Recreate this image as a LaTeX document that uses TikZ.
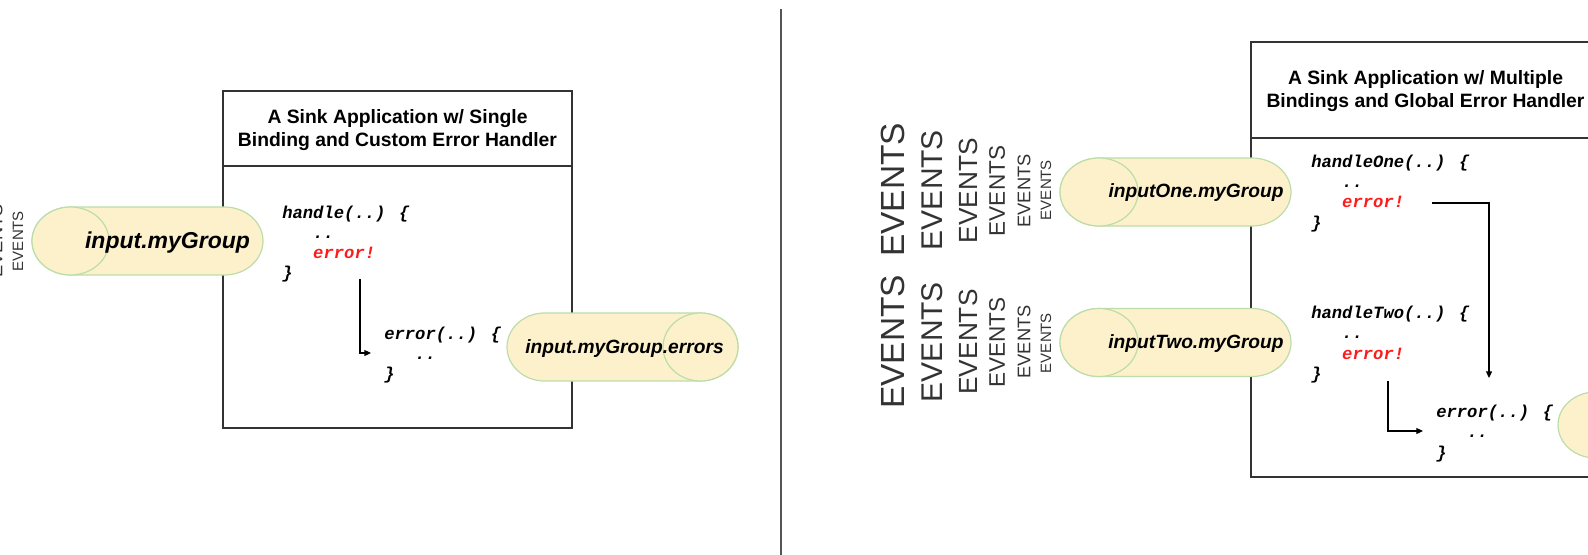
\documentclass[tikz,border=0pt]{standalone}
\usepackage{fontspec}
\setmainfont{Liberation Sans}
\newfontfamily\codefont{Liberation Mono}
\usetikzlibrary{arrows.meta}
\definecolor{boxgray}{HTML}{333333}
\definecolor{divgray}{HTML}{555555}
\definecolor{cylfill}{HTML}{FDF1CC}
\definecolor{cylline}{HTML}{BCDDA8}
\definecolor{errred}{HTML}{FF1A1A}
\newcommand{\mycylbody}[5]{%
  \path[cyl] ({#1+#4},{#3-#5}) -- ({#2-#4},{#3-#5})
    arc[start angle=-90,end angle=90,x radius=#4,y radius=#5]
    -- ({#1+#4},{#3+#5})
    arc[start angle=90,end angle=270,x radius=#4,y radius=#5] -- cycle;}
\tikzset{
  boxline/.style={draw=boxgray, line width=1.1pt},
  divider/.style={draw=divgray, line width=0.9pt},
  cyl/.style={fill=cylfill, draw=cylline, line width=0.9pt},
  code/.style={anchor=base west, inner sep=0pt, text=black,
    font=\fontsize{12.9pt}{15pt}\selectfont\codefont\bfseries\itshape},
  redcode/.style={code, text=errred},
  titletext/.style={align=center, inner sep=0pt, text=black,
    font=\fontsize{14.5pt}{17.6pt}\selectfont\bfseries},
  evt/.style={rotate=90, inner sep=0pt, text=boxgray},
  lbl/.style={inner sep=0pt, text=black, font=\fontsize{14.4pt}{16pt}\selectfont\bfseries\itshape},
  biglbl/.style={lbl, font=\fontsize{17.25pt}{19pt}\selectfont\bfseries\itshape},
  flow/.style={draw=black, line width=0.8pt, -{Triangle[length=5pt,width=4.5pt]}},
}
\begin{document}
\begin{tikzpicture}[x=0.75pt,y=-0.75pt]
\useasboundingbox (0,0) rectangle (1588,554);
\clip (0,0) rectangle (1588,554);

% divider
\coordinate (dtop) at (781,9);
\coordinate (dbot) at (781,560);
\draw[divider] (dtop) -- (dbot);

% ---------- left panel ----------
\draw[boxline] (223,91) rectangle (572,428);
\draw[boxline] (223,166) -- (572,166);
\node[titletext] (ltitle) at (397.5,130) {A Sink Application w/ Single\\Binding and Custom Error Handler};

\node[evt, font=\fontsize{13.7pt}{14pt}\selectfont] (lev5) at (-4,241) {EVENTS};
\node[evt, font=\fontsize{11.25pt}{12pt}\selectfont] (lev6) at (18,241) {EVENTS};

\mycylbody{32}{263}{241}{38.5}{34}
\draw[cyl] (70.5,241) ellipse [x radius=38.5, y radius=34];
\node[biglbl] (lin) at (167.5,243) {input.myGroup};

\mycylbody{507}{738}{347}{37.5}{34}
\draw[cyl] (700.5,347) ellipse [x radius=37.5, y radius=34];
\node[lbl] (lerr) at (624.5,349) {input.myGroup.errors};

\node[code] (lh1) at (282,218) {handle(..) \{};
\node[code] (lh2) at (282,238) {\phantom{xxx}..};
\node[redcode] (lh3) at (282,258) {\phantom{xxx}error!};
\node[code] (lh4) at (282,278) {\}};

\node[code] (le1) at (384,339) {error(..) \{};
\node[code] (le2) at (384,359) {\phantom{xxx}..};
\node[code] (le3) at (384,379) {\}};

\coordinate (la1) at (360,279);
\coordinate (la2) at (371,353);
\draw[flow] (la1) |- (la2);

% ---------- right panel ----------
\draw[boxline] (1251,42) rectangle (1599,477);
\draw[boxline] (1251,138) -- (1599,138);
\node[titletext] (rtitle) at (1425.5,91) {A Sink Application w/ Multiple\\Bindings and Global Error Handler};

% EVENTS stacks
\node[evt, font=\fontsize{25.1pt}{26pt}\selectfont] (ea1) at (893,190) {EVENTS};
\node[evt, font=\fontsize{22.5pt}{23pt}\selectfont] (ea2) at (932,190) {EVENTS};
\node[evt, font=\fontsize{19.7pt}{20pt}\selectfont] (ea3) at (968,190.5) {EVENTS};
\node[evt, font=\fontsize{16.9pt}{17pt}\selectfont] (ea4) at (997,191) {EVENTS};
\node[evt, font=\fontsize{13.7pt}{14pt}\selectfont] (ea5) at (1024,191) {EVENTS};
\node[evt, font=\fontsize{11.25pt}{12pt}\selectfont] (ea6) at (1046,190) {EVENTS};

\node[evt, font=\fontsize{25.1pt}{26pt}\selectfont] (eb1) at (893,342) {EVENTS};
\node[evt, font=\fontsize{22.5pt}{23pt}\selectfont] (eb2) at (932,342) {EVENTS};
\node[evt, font=\fontsize{19.7pt}{20pt}\selectfont] (eb3) at (968,342) {EVENTS};
\node[evt, font=\fontsize{16.9pt}{17pt}\selectfont] (eb4) at (997,342.5) {EVENTS};
\node[evt, font=\fontsize{13.7pt}{14pt}\selectfont] (eb5) at (1024,342) {EVENTS};
\node[evt, font=\fontsize{11.25pt}{12pt}\selectfont] (eb6) at (1046,343) {EVENTS};

\mycylbody{1060}{1291}{192}{39}{34}
\draw[cyl] (1099,192) ellipse [x radius=39, y radius=34];
\node[lbl] (rin1) at (1196,193) {inputOne.myGroup};

\mycylbody{1060}{1291}{342.5}{39}{34}
\draw[cyl] (1099,342.5) ellipse [x radius=39, y radius=34];
\node[lbl] (rin2) at (1196,344) {inputTwo.myGroup};

\mycylbody{1558}{1789}{425}{37.5}{33}
\draw[cyl] (1751.5,425) ellipse [x radius=37.5, y radius=33];

\node[code] (ro1) at (1311,167) {handleOne(..) \{};
\node[code] (ro2) at (1311,187) {\phantom{xxx}..};
\node[redcode] (ro3) at (1311,207.5) {\phantom{xxx}error!};
\node[code] (ro4) at (1311,228) {\}};

\node[code] (rt1) at (1311,318) {handleTwo(..) \{};
\node[code] (rt2) at (1311,338.5) {\phantom{xxx}..};
\node[redcode] (rt3) at (1311,359) {\phantom{xxx}error!};
\node[code] (rt4) at (1311,379) {\}};

\node[code] (re1) at (1436,417) {error(..) \{};
\node[code] (re2) at (1436,437) {\phantom{xxx}..};
\node[code] (re3) at (1436,458) {\}};

\coordinate (ra1) at (1432,203);
\coordinate (ra2) at (1489,378);
\draw[flow] (ra1) -| (ra2);

\coordinate (rb1) at (1388,381);
\coordinate (rb2) at (1423,431);
\draw[flow] (rb1) |- (rb2);
\end{tikzpicture}
\end{document}
